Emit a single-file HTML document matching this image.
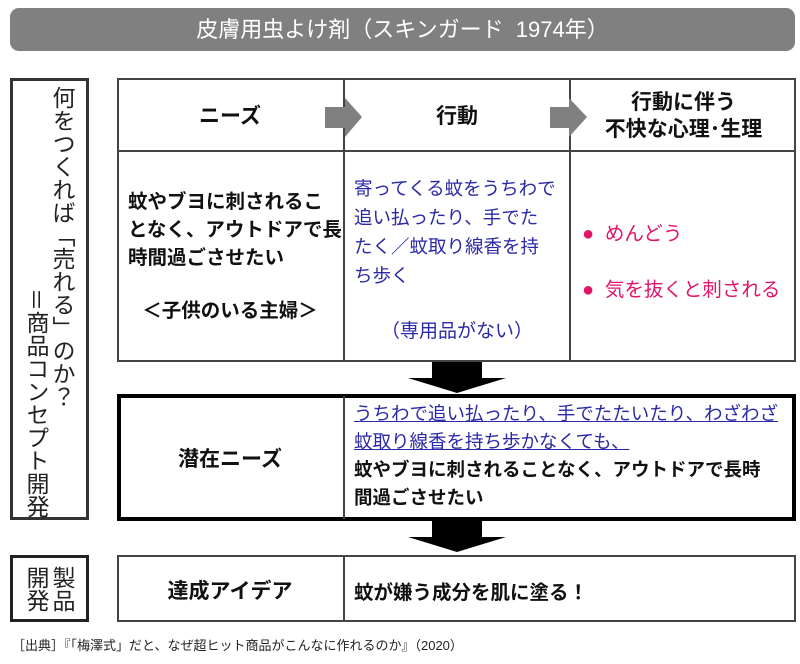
<!DOCTYPE html>
<html><head><meta charset="utf-8"><style>
body{margin:0;width:800px;height:664px;background:#fff;position:relative;overflow:hidden;font-family:"Liberation Sans","Noto Sans CJK JP",sans-serif;}
.a{position:absolute;box-sizing:border-box;}
.b{font-weight:bold;color:#111;}
.blue{color:#2a2aa8;}
.pink{color:#e0156a;}
.vt{writing-mode:vertical-rl;font-size:23px;color:#222;line-height:1;}
</style></head><body>
<div class="a" style="left:10px;top:8px;width:785px;height:43px;background:#808080;border-radius:9px;color:#fff;font-size:22px;text-align:center;line-height:43px;">皮膚用虫よけ剤（スキンガード&nbsp; 1974年）</div>

<div class="a" style="left:10px;top:78px;width:79px;height:442px;border:3px solid #333;"></div>
<div class="a vt" style="left:50px;top:86px;">何をつくれば「売れる」のか？</div>
<div class="a vt" style="left:24px;top:288px;">＝商品コンセプト開発</div>

<div class="a" style="left:10px;top:555px;width:79px;height:67px;border:3px solid #222;"></div>
<div class="a vt" style="left:50px;top:566px;">製品</div>
<div class="a vt" style="left:24px;top:566px;">開発</div>

<div class="a" style="left:117px;top:78px;width:679px;height:284px;border:2px solid #444;"></div>
<div class="a" style="left:117px;top:150px;width:679px;height:2px;background:#444;"></div>
<div class="a" style="left:343px;top:78px;width:2px;height:284px;background:#444;"></div>
<div class="a" style="left:569px;top:78px;width:2px;height:284px;background:#444;"></div>

<svg class="a" style="left:0;top:0" width="800" height="664">
<polygon points="325,107 345,107 345,98 362,117 345,137 345,128 325,128" fill="#808080"/>
<polygon points="550,107 569,107 569,98 587,117 569,137 569,128 550,128" fill="#808080"/>
<polygon points="432,362 482,362 482,378 506,378 457,393 408,378 432,378" fill="#000"/>
<polygon points="432,520 482,520 482,537 506,537 457,552 408,537 432,537" fill="#000"/>
</svg>

<div class="a b" style="left:117px;top:100px;width:226px;text-align:center;font-size:21px;">ニーズ</div>
<div class="a b" style="left:345px;top:100px;width:224px;text-align:center;font-size:21px;">行動</div>
<div class="a b" style="left:571px;top:89px;width:225px;text-align:center;font-size:21px;line-height:27px;">行動に伴う<br>不快な心理･生理</div>

<div class="a b" style="left:128px;top:188px;width:214px;font-size:19.5px;line-height:28px;">蚊やブヨに刺されることなく、アウトドアで長時間過ごさせたい</div>
<div class="a b" style="left:117px;top:294px;width:226px;text-align:center;font-size:19.5px;">＜子供のいる主婦＞</div>

<div class="a blue" style="left:354px;top:174px;width:212px;font-size:18.5px;line-height:29px;">寄ってくる蚊をうちわで<br>追い払ったり、手でた<br>たく／蚊取り線香を持<br>ち歩く</div>
<div class="a blue" style="left:345px;top:316px;width:224px;text-align:center;font-size:19px;">（専用品がない）</div>

<div class="a pink" style="left:582px;top:217px;font-size:19.5px;"><span style="font-size:20px">●</span>&nbsp; めんどう</div>
<div class="a pink" style="left:582px;top:273px;font-size:19.5px;"><span style="font-size:20px">●</span>&nbsp; 気を抜くと刺される</div>

<div class="a" style="left:117px;top:394px;width:679px;height:127px;border:4px solid #000;"></div>
<div class="a" style="left:343px;top:396px;width:2px;height:123px;background:#444;"></div>
<div class="a b" style="left:117px;top:443px;width:226px;text-align:center;font-size:21px;">潜在ニーズ</div>
<div class="a" style="left:354px;top:400px;width:440px;font-size:18.5px;line-height:28px;white-space:nowrap;">
<span class="blue" style="text-decoration:underline;">うちわで追い払ったり、手でたたいたり、わざわざ<br>蚊取り線香を持ち歩かなくても、</span><br><span class="b">蚊やブヨに刺されることなく、アウトドアで長時<br>間過ごさせたい</span></div>

<div class="a" style="left:117px;top:555px;width:679px;height:67px;border:2px solid #444;"></div>
<div class="a" style="left:343px;top:555px;width:2px;height:67px;background:#444;"></div>
<div class="a b" style="left:117px;top:575px;width:226px;text-align:center;font-size:21px;">達成アイデア</div>
<div class="a b" style="left:354px;top:576px;font-size:19.5px;">蚊が嫌う成分を肌に塗る！</div>

<div class="a" style="left:12px;top:635px;font-size:13px;color:#222;">［出典］『「梅澤式」だと、なぜ超ヒット商品がこんなに作れるのか』（2020）</div>
</body></html>
